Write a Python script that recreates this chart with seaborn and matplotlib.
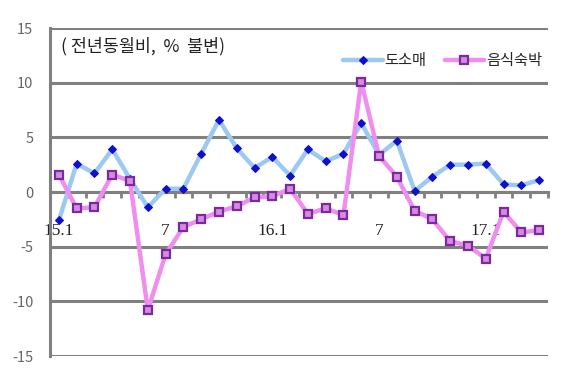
import matplotlib
matplotlib.use("Agg")
import matplotlib.pyplot as plt
import seaborn as sns
import pandas as pd
import numpy as np

months = ["15.1","15.2","15.3","15.4","15.5","15.6","15.7","15.8","15.9","15.10","15.11","15.12",
          "16.1","16.2","16.3","16.4","16.5","16.6","16.7","16.8","16.9","16.10","16.11","16.12",
          "17.1","17.2","17.3","17.4"]
wholesale_retail = [-2.6, 2.6, 1.7, 3.9, 1.2, -1.4, 0.3, 0.3, 3.5, 6.6, 4.0, 2.2,
                    3.2, 1.5, 3.9, 2.8, 3.5, 6.3, 3.4, 4.7, 0.1, 1.4, 2.5, 2.5,
                    2.6, 0.7, 0.6, 1.1]
food_lodging = [1.6, -1.5, -1.4, 1.6, 1.0, -10.8, -5.7, -3.2, -2.5, -1.8, -1.3, -0.5,
                -0.4, 0.3, -2.0, -1.5, -2.1, 10.1, 3.3, 1.4, -1.7, -2.5, -4.5, -4.9,
                -6.1, -1.8, -3.7, -3.5]
tick_labels = {0: "15.1", 6: "7", 12: "16.1", 18: "7", 24: "17.1"}
series_names = ["도소매", "음식숙박"]

sns.set_theme(style="white")
plt.rcParams['font.family'] = ['Noto Sans CJK KR', 'DejaVu Sans']

df = pd.DataFrame({"pos": np.arange(len(months)), "month": months,
                   series_names[0]: wholesale_retail, series_names[1]: food_lodging})

fig = plt.figure(figsize=(5.67, 3.78), dpi=100)
ax = fig.add_axes([50/567, 22/378, 498/567, 328/378])

sns.lineplot(data=df, x="pos", y=series_names[0], ax=ax, color="#9dc9f0", lw=3.2,
             marker="D", markersize=4, markerfacecolor="#1010c8", markeredgecolor="#1010c8",
             label=series_names[0], zorder=3)
sns.lineplot(data=df, x="pos", y=series_names[1], ax=ax, color="#f08ef0", lw=3.2,
             marker="s", markersize=5.2, markerfacecolor="#d88ae0", markeredgecolor="#7a2aa0",
             markeredgewidth=1.6, label=series_names[1], zorder=4)

ax.set_xlim(-0.5, len(months) - 0.5)
ax.set_ylim(-15, 15)
ax.set_yticks([-15, -10, -5, 0, 5, 10, 15])
ax.set_yticklabels(["-15", "-10", "-5", "0", "5", "10", "15"])
ax.grid(axis="y", color="#808080", lw=2.2)
ax.grid(axis="x", visible=False)
ax.set_axisbelow(True)

for s in ["top", "right"]:
    ax.spines[s].set_visible(False)
ax.spines["left"].set_color("#808080")
ax.spines["left"].set_linewidth(2.2)
ax.spines["bottom"].set_position(("data", 0))
ax.spines["bottom"].set_color("#808080")
ax.spines["bottom"].set_linewidth(2.2)

ax.set_xticks(list(tick_labels.keys()))
ax.set_xticklabels(list(tick_labels.values()), family=["Liberation Serif", "DejaVu Serif"], fontsize=12.5)
ax.set_xticks(np.arange(-0.5, len(months), 1), minor=True)
ax.tick_params(axis="x", which="major", length=0, pad=22, colors="#222222")
ax.tick_params(axis="x", which="minor", length=4, width=2, color="#808080", direction="out", bottom=True)
ax.tick_params(axis="y", length=0, pad=12, labelcolor="#666666", labelsize=10.5)
ax.set_xlabel("")
ax.set_ylabel("")

ax.text(0.022, 0.972, "( 전년동월비,  %  불변)", transform=ax.transAxes, fontsize=12.5,
        ha="left", va="top", color="#222222")

leg = ax.legend(loc="upper right", bbox_to_anchor=(1.0, 0.945), frameon=False, ncol=2,
                fontsize=11, handlelength=2.6, columnspacing=1.2, handletextpad=0.1,
                borderaxespad=0)

fig.savefig("out.png", dpi=100)
